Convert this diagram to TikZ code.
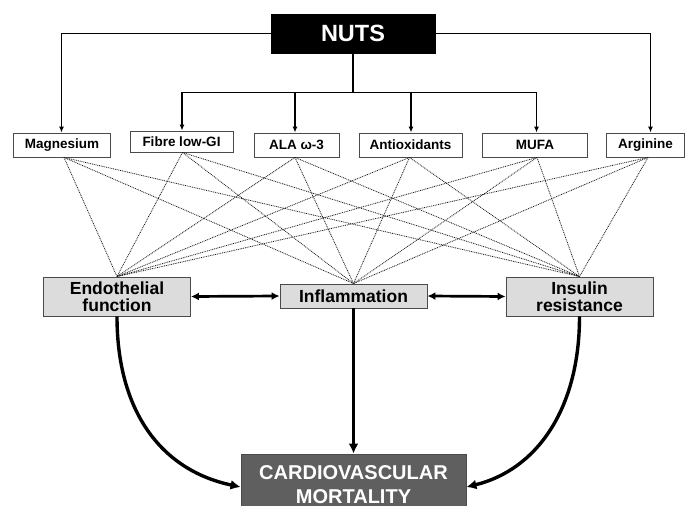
\documentclass[tikz,border=0pt]{standalone}
\usepackage{fontspec}
\setmainfont{Liberation Sans}
\usetikzlibrary{arrows.meta}
\definecolor{edgegray}{HTML}{4A4A4A}
\definecolor{medfill}{HTML}{DCDCDC}
\definecolor{cvfill}{HTML}{5F5F5F}
\begin{document}
\begin{tikzpicture}[x=1pt,y=-1pt,
  nutsbox/.style={draw=black,fill=black,text=white,font=\fontsize{23.5}{26}\selectfont\bfseries,minimum width=164pt,minimum height=39pt,inner sep=0pt},
  compbox/.style={draw=edgegray,line width=0.9pt,fill=white,font=\fontsize{13.5}{15}\selectfont\bfseries,minimum height=24pt,inner sep=0pt},
  medbox/.style={draw=edgegray,line width=0.9pt,fill=medfill,font=\fontsize{17.5}{16.5}\selectfont\bfseries,align=center,minimum width=147pt,inner sep=0pt},
  cvbox/.style={draw=edgegray,line width=0.9pt,fill=cvfill,text=white,font=\fontsize{20}{24}\selectfont\bfseries,align=center,minimum width=225pt,minimum height=62pt,inner sep=0pt},
  feed/.style={line width=1.3pt,-{Latex[length=6pt,width=5pt]}},
  link/.style={dash pattern=on 0.9pt off 0.9pt,line width=0.8pt,draw=black!90},
  both/.style={line width=2.7pt,{Latex[length=8pt,width=8pt]}-{Latex[length=8pt,width=8pt]}},
  thick arrow/.style={line width=3.4pt,-{Latex[length=10pt,width=10pt]}}
]
\useasboundingbox (0,0) rectangle (686,506);
\begin{scope}
\clip (0,0) rectangle (686,506);
% nodes
\node[nutsbox] (nuts) at (353,33.5) {NUTS};
\node[compbox,minimum width=97pt] (mag) at (62,145) {Magnesium};
\node[compbox,minimum width=103pt,minimum height=21pt] (fib) at (181.5,141.5) {Fibre low-GI};
\node[compbox,minimum width=85pt] (ala) at (296.5,145) {ALA ω-3};
\node[compbox,minimum width=103pt] (ant) at (410.5,145) {Antioxidants};
\node[compbox,minimum width=105pt] (mufa) at (535,145) {MUFA};
\node[compbox,minimum width=78pt] (arg) at (645.5,145) {Arginine};
\node[medbox,minimum height=39pt] (endo) at (117,296.5) {Endothelial\\function};
\node[medbox,minimum height=24pt] (infl) at (353.5,296) {Inflammation};
\node[medbox,minimum height=39pt] (ins) at (579.5,296.5) {Insulin\\resistance};
\node[cvbox] (cv) at (353.5,485) {CARDIOVASCULAR\\MORTALITY};
% feed lines from NUTS
\coordinate (bus) at (353,92.5);
\coordinate (magin) at ([xshift=-0.5pt]mag.north);
\coordinate (argin) at ([xshift=5pt]arg.north);
\coordinate (fibin) at ([xshift=0.5pt]fib.north);
\coordinate (alain) at ([xshift=-1.5pt]ala.north);
\coordinate (antin) at ([xshift=0.5pt]ant.north);
\coordinate (mufain) at ([xshift=1.5pt]mufa.north);
\draw[feed] (nuts.west) -| (magin);
\draw[feed] (nuts.east) -| (argin);
\draw[line width=1.3pt] (nuts.south) -- (bus);
\draw[feed] (bus) -| (fibin);
\draw[feed] (bus) -| (mufain);
\draw[feed] (bus -| alain) -- (alain);
\draw[feed] (bus -| antin) -- (antin);
% dotted links
\foreach \s/\dx in {mag/2, fib/1, ala/-1.5, ant/-1, mufa/2, arg/2.5}{
  \foreach \t in {endo, infl, ins}{
    \draw[link] ([xshift=\dx pt]\s.south) -- (\t.north);
  }
}
% mediator links
\draw[both] (endo.east) -- (infl.west);
\draw[both] (infl.east) -- (ins.west);
% to outcome
\coordinate (cvl) at ([yshift=-2pt]cv.west);
\coordinate (cvr) at ([yshift=-2pt]cv.east);
\draw[thick arrow] (endo.south) .. controls (117,410) and (160,470) .. (cvl);
\draw[thick arrow] (infl.south) -- (cv.north);
\draw[thick arrow] (ins.south) .. controls (579.5,410) and (536,470) .. (cvr);
\end{scope}
\end{tikzpicture}
\end{document}
